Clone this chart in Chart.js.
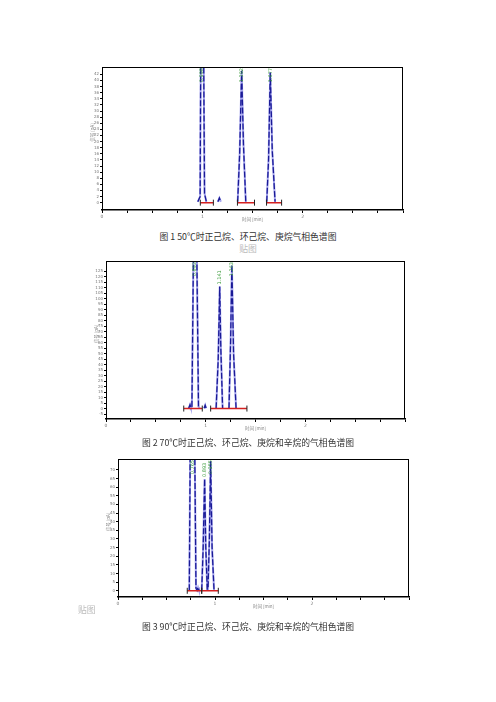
<!DOCTYPE html>
<html>
<head>
<meta charset="utf-8">
<script src="https://cdn.jsdelivr.net/npm/chart.js@4.4.0/dist/chart.umd.min.js"></script>
<style>
  body { margin: 0; background: #fff; width: 496px; height: 702px; position: relative; overflow: hidden; }
  canvas { position: absolute; }
  .cap { position: absolute; left: 0; width: 496px; text-align: center; font: 8.8px "Noto Sans CJK SC", sans-serif; color: #333; line-height: 12px; }
  .tie { position: absolute; font: 8.8px "Noto Sans CJK SC", sans-serif; color: #bbb; line-height: 12px; }
</style>
</head>
<body>
<canvas id="c50" width="352" height="170" style="left:60px;top:58px"></canvas>
<div class="cap" style="top:231px">图 1 50℃时正己烷、环己烷、庚烷气相色谱图</div>
<div class="cap" style="top:243px;color:#bbb">贴图</div>

<canvas id="c70" width="354" height="185" style="left:60px;top:252px"></canvas>
<div class="cap" style="top:437px">图 2 70℃时正己烷、环己烷、庚烷和辛烷的气相色谱图</div>

<canvas id="c90" width="348" height="165" style="left:70px;top:450px"></canvas>
<div class="tie" style="left:78px;top:604px">贴图</div>
<div class="cap" style="top:621px">图 3 90℃时正己烷、环己烷、庚烷和辛烷的气相色谱图</div>

<script>
/* ===============================
   DADOS – 50℃
================================ */
const time50   = [0.955, 0.978, 0.99, 1.005, 1.022, 1.04, 1.1, 1.155, 1.17, 1.185, 1.27, 1.352, 1.372, 1.392, 1.41, 1.433, 1.55, 1.642, 1.66, 1.677, 1.697, 1.725];
const signal50 = [0.3, 2, 90, 90, 3, 0.3, null, 0.3, 1.5, 0.3, null, 0.3, 16, 43.2, 19, 0.3, null, 0.3, 14, 42.6, 17, 0.3];
const baseStart50 = [0.98, 1.35, 1.64];
const baseEnd50   = [1.11, 1.52, 1.79];
const peakTime50   = [0.998, 1.392, 1.677];
const peakHeight50 = [90, 43.2, 42.6];
const peakLabel50  = ["0.998", "1.392", "1.677"];
const yRange50 = [-2.4, 44.4, 2];

/* ===============================
   DADOS – 70℃
================================ */
const time70   = [0.83, 0.843, 0.852, 0.862, 0.884, 0.904, 0.928, 0.94, 0.96, 0.985, 0.995, 1.005, 1.05, 1.105, 1.126, 1.141, 1.152, 1.17, 1.2, 1.234, 1.25, 1.263, 1.28, 1.305];
const signal70 = [0.3, 3.5, 0.8, 2, 200, 200, 2, 0.3, null, 0.3, 3, 0.3, null, 0.3, 45, 111, 55, 0.3, null, 0.3, 60, 130.3, 50, 0.3];
const baseStart70 = [0.78, 1.05];
const baseEnd70   = [0.966, 1.414];
const peakTime70   = [0.893, 1.141, 1.263];
const peakHeight70 = [200, 111, 130.3];
const peakLabel70  = ["0.893", "1.141", "1.263"];
const yRange70 = [-9.5, 134.2, 5];

/* ===============================
   DADOS – 90℃
================================ */
const time90   = [0.735, 0.758, 0.772, 0.804, 0.815, 0.825, 0.835, 0.85, 0.863, 0.878, 0.893, 0.905, 0.92, 0.928, 0.942, 0.955, 0.97, 0.99];
const signal90 = [0.3, 200, 200, 1.5, 0.3, 2, 0.3, null, 0.3, 25, 64.7, 25, 1, 1, 30, 75, 25, 0.3];
const baseStart90 = [0.714, 0.863];
const baseEnd90   = [0.863, 1.034];
const peakTime90   = [0.765, 0.893, 0.955];
const peakHeight90 = [200, 64.7, 75];
const peakLabel90  = ["0.765", "0.893", "0.955"];
const yRange90 = [-3.6, 76.3, 5];

/* ===============================
   PLUGIN – MOLDURA, RÓTULOS
================================ */
const framePlugin = {
  id: "frame",
  afterDatasetsDraw(chart, args, opts) {
    const { ctx, chartArea: a, scales: { x, y } } = chart;
    ctx.save();
    ctx.strokeStyle = "#000";
    ctx.lineWidth = 1;
    ctx.strokeRect(a.left + 0.5, a.top + 0.5, a.width - 1, a.height - 1);

    // rótulos verdes dos picos
    ctx.fillStyle = "#3c9c3c";
    ctx.font = "5px 'DejaVu Sans'";
    ctx.textBaseline = "middle";
    opts.times.forEach((t, i) => {
      const px = x.getPixelForValue(t);
      let py = y.getPixelForValue(opts.heights[i]) - 2;
      const w = ctx.measureText(opts.labels[i]).width;
      if (py - w < a.top + 1) py = a.top + 1 + w;
      ctx.save();
      ctx.translate(px, py);
      ctx.rotate(-Math.PI / 2);
      ctx.fillText(opts.labels[i], 0, 0);
      ctx.restore();
    });

    // títulos dos eixos
    ctx.fillStyle = "#888";
    ctx.font = "4.5px 'Noto Sans CJK SC'";
    ctx.textAlign = "center";
    ctx.fillText("时间 [min]", (a.left + a.right) / 2, a.bottom + 9);
    ctx.save();
    ctx.translate(a.left - 10, (a.top + a.bottom) / 2 - 6);
    ctx.rotate(-Math.PI / 2);
    ctx.fillText("信号 [pA]", 0, 0);
    ctx.restore();
    ctx.restore();
  }
};

function baselineData(starts, ends) {
  const pts = [];
  starts.forEach((s, i) => {
    pts.push({ x: s, y: 0 }, { x: ends[i], y: 0 }, { x: ends[i], y: null });
  });
  return pts;
}

function renderChromatogram(canvasId, times, signals, starts, ends, peaks, yRange, yWidth) {
  const trace = times.map((t, i) => ({ x: t, y: signals[i] }));
  const [yMin, yMax, yStep] = yRange;

  return new Chart(document.getElementById(canvasId), {
    type: "line",
    data: {
      // o primeiro dataset fica por cima
      datasets: [
        {
          data: baselineData(starts, ends),
          borderColor: "#d42020",
          borderWidth: 1.5,
          spanGaps: false,
          pointStyle: "line",
          rotation: 90,
          pointRadius: c => (c.raw && c.raw.y !== null ? 3 : 0),
          pointBorderColor: "#222",
          pointBorderWidth: 1,
          clip: 4
        },
        { data: trace, borderColor: "#1a1a96", borderWidth: 1.3, borderDash: [6, 2], pointRadius: 0, spanGaps: false, clip: 0 },
        { data: trace, borderColor: "#a6a6ee", borderWidth: 2, pointRadius: 0, spanGaps: false, clip: 0 }
      ]
    },
    options: {
      responsive: false,
      animation: false,
      devicePixelRatio: 1,
      layout: { padding: { top: 9, right: 9, left: 0, bottom: 0 } },
      plugins: {
        legend: { display: false },
        tooltip: { enabled: false },
        frame: { times: peaks[0], heights: peaks[1], labels: peaks[2] }
      },
      scales: {
        x: {
          type: "linear",
          min: 0,
          max: 3,
          afterFit: s => { s.height = 18; },
          ticks: {
            stepSize: 0.25,
            autoSkip: false,
            maxRotation: 0,
            padding: 1,
            color: "#777",
            font: { size: 4.5, family: "DejaVu Sans" },
            callback: v => (Number.isInteger(v) && v < 3 ? v : "")
          },
          grid: { drawOnChartArea: false, drawTicks: true, tickLength: 3, color: "#000" },
          border: { color: "#000", width: 1.5 }
        },
        y: {
          type: "linear",
          min: yMin,
          max: yMax,
          afterFit: s => { s.width = yWidth; },
          afterBuildTicks: s => {
            s.ticks = s.ticks.filter(t => Math.abs(t.value / yStep - Math.round(t.value / yStep)) < 1e-6);
          },
          ticks: {
            stepSize: yStep,
            autoSkip: false,
            padding: 1,
            color: "#777",
            font: { size: 4, family: "DejaVu Sans" }
          },
          grid: { drawOnChartArea: false, drawTicks: true, tickLength: 2, color: "#000" },
          border: { color: "#000", width: 1 }
        }
      }
    },
    plugins: [framePlugin]
  });
}

renderChromatogram("c50", time50, signal50, baseStart50, baseEnd50, [peakTime50, peakHeight50, peakLabel50], yRange50, 42);
renderChromatogram("c70", time70, signal70, baseStart70, baseEnd70, [peakTime70, peakHeight70, peakLabel70], yRange70, 46);
renderChromatogram("c90", time90, signal90, baseStart90, baseEnd90, [peakTime90, peakHeight90, peakLabel90], yRange90, 48);
</script>
</body>
</html>
